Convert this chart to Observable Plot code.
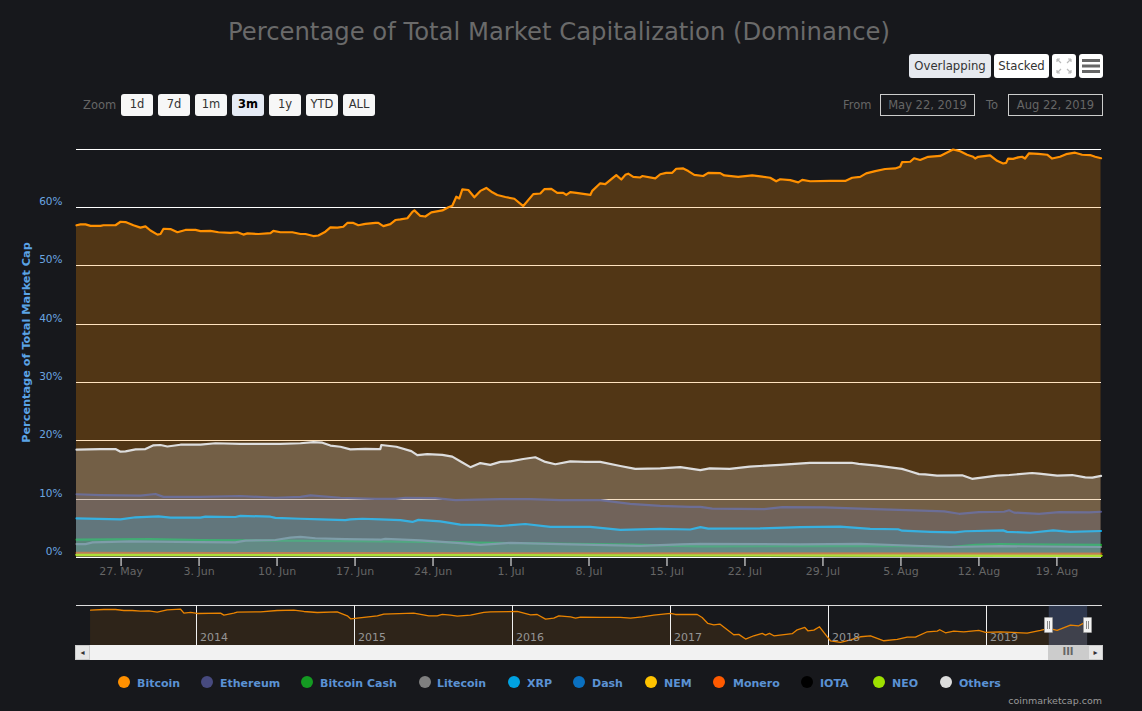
<!DOCTYPE html>
<html><head><meta charset="utf-8">
<script src="https://cdn.jsdelivr.net/npm/d3@7"></script>
<script src="https://cdn.jsdelivr.net/npm/@observablehq/plot@0.6"></script>
<style>
html,body{margin:0;padding:0;background:#17181c;width:1142px;height:711px;overflow:hidden;font-family:"DejaVu Sans",sans-serif}
.abs{position:absolute;box-sizing:border-box}
#title{left:0;width:1118px;top:16px;text-align:center;color:#6a6a6a;font-size:24.3px;line-height:32px;white-space:nowrap}
.btn{height:22px;top:94px;width:32px;background:#f7f7f7;border-radius:3px;color:#333;font-size:11.5px;line-height:21px;text-align:center}
.lab{color:#666;font-size:11.5px;top:98px;line-height:15px}
.box{top:94px;height:22px;border:1px solid #cccccc;color:#666;font-size:11.5px;line-height:20px;text-align:center}
.top{top:54px;height:24px;border-radius:3px;color:#333;font-size:11.7px;line-height:25px;text-align:center;background:#fff}
.dot{width:12px;height:12px;border-radius:50%;top:676px}
.leg{top:676px;color:#5b92d4;font-size:11px;font-weight:bold;line-height:15px;white-space:nowrap}
svg{position:absolute;left:0;overflow:visible}
</style></head><body>
<div id="root"></div>
<script>
// Main chart: days since 23 May 2019 and dominance (%)
const startDate = Date.UTC(2019,4,23);
const bitcoinDays = [0,.36,.81,1.26,2.15,2.42,3.5,3.95,4.4,5.11,5.74,6.19,6.64,7.27,7.54,7.81,8.43,9.06,9.78,10.68,11.13,12.02,12.74,13.82,14.44,14.98,15.34,16.33,17.41,17.67,18.3,19.38,20.1,20.55,21.26,21.71,22.34,22.79,23.42,23.95,24.31,24.85,25.3,25.93,26.83,27.09,27.54,28.17,28.62,29.07,29.7,30.15,30.33,30.86,31.31,31.85,32.84,33.38,33.73,34.09,34.36,34.63,35.17,35.71,36.25,36.78,37.32,37.77,38.49,39.3,40.1,41,41.63,41.99,42.62,43.15,43.69,43.96,44.32,44.86,46.12,46.29,47.01,47.46,48.09,48.45,48.9,49.26,49.52,49.97,50.6,50.78,51.95,52.4,52.93,53.47,53.83,54.46,54.91,55.45,56.25,56.7,57.78,58.14,59.39,60.65,61.37,62.26,62.8,63.16,64.06,64.78,65.14,65.85,67.65,69,69.62,70.34,70.88,71.69,72.58,73.48,73.93,74.11,74.83,75.18,75.72,76.44,77.52,78.68,79.31,79.94,80.48,80.66,80.93,82,82.63,83.17,83.44,83.62,84.07,84.52,84.87,85.14,85.5,86.31,87.12,87.57,88.28,88.82,89.63,90.26,90.98,91.43,91.96];
const bitcoinValues = [57,57.15,57.15,56.9,56.9,57,57,57.6,57.55,57,56.6,56.8,56.1,55.4,55.5,56.4,56.35,55.8,56.2,56.2,56,56.05,55.8,55.7,55.8,55.4,55.6,55.5,55.65,56.05,55.8,55.8,55.5,55.5,55.15,55.25,55.9,56.65,56.6,56.75,57.4,57.4,57,57.25,57.4,57.4,56.85,57.2,57.9,58,58.2,59.3,59.55,58.6,58.5,59.2,59.55,60.1,60.35,61.9,61.6,63.15,63.05,61.8,62.9,63.4,62.65,62.2,61.85,61.55,60.3,62.35,62.45,63.2,63.25,62.55,62.55,62.2,62.7,62.55,62.2,62.9,64.2,64.05,65.05,65.6,64.85,65.65,65.85,65.3,65.2,65.45,65.05,65.75,66,66,66.7,66.75,66.3,65.65,65.45,66,65.95,65.55,65.3,65.55,65.4,65.15,64.55,64.9,64.75,64.35,64.8,64.55,64.6,64.6,65.15,65.3,65.9,66.3,66.65,66.75,67.05,67.85,67.9,68.5,68.2,68.75,68.9,70,69.7,69.1,68.75,68.45,68.75,69,68.05,67.6,67.7,68.45,68.4,68.65,68.75,68.45,69.35,69.25,69.1,68.45,68.75,69.2,69.45,69.1,69.05,68.75,68.5];
const othersDays = [0,2.15,3.5,3.95,4.4,5.3,6.19,6.91,7.54,8.16,9.33,11.13,12.47,14.71,18.3,20.1,21.26,22.07,22.79,23.69,24.58,25.93,27.09,27.27,27.36,28.71,30.05,30.59,31.49,32.84,33.73,34.63,35.35,36.25,37.14,38.04,38.94,40.1,41.18,42.08,42.98,44.32,45.67,47.01,48.81,50.15,52.4,54.2,55.99,56.83,58.63,60.42,63.13,65.82,69.58,70.2,71.84,74.09,74.72,75.62,76.16,77.24,79.49,80.38,82.63,83.71,85.77,86.4,88.03,89.37,90.54,91.18,91.96];
const othersValues = [18.5,18.6,18.6,18.15,18.2,18.55,18.6,19.25,19.3,19.05,19.35,19.35,19.6,19.5,19.5,19.6,19.8,19.7,19.2,19,18.55,18.65,18.6,18.6,19.3,19,18.25,17.55,17.75,17.6,17.3,16.3,15.5,16.2,15.9,16.4,16.5,16.9,17.2,16.4,16,16.5,16.4,16.4,15.7,15.2,15.3,15.5,15,15.3,15.2,15.6,15.9,16.25,16.25,16.05,15.75,15.2,14.85,14.3,14.25,14.05,14.1,13.5,14.05,14.15,14.5,14.4,14.05,14.15,13.75,13.7,14,14.15];
const ethereumDays = [0,2.15,5.74,7.09,7.81,11.13,14.71,17.85,20.1,21,23.69,26.83,28.62,29.52,32.2,34,38.04,40.73,43.42,47.01,49.7,52.4,55.09,56,57.06,61.73,63.35,67.11,71.6,75.18,77.87,79.22,81,83.26,83.71,84.15,86.4,88.2,90.9,91.96];
const ethereumValues = [10.85,10.7,10.6,10.9,10.4,10.4,10.55,10.25,10.4,10.65,10.25,10.05,10.05,10.25,10.2,9.85,10,10,9.85,9.85,9.2,8.85,8.7,8.7,8.4,8.3,8.65,8.6,8.3,8.1,7.9,7.5,7.8,7.85,8.1,7.7,7.5,7.8,7.75,7.85];
const xrpDays = [0,3.95,5.3,7.36,8.43,11.13,11.57,14.26,14.71,17.41,17.85,20.1,21.9,24.13,24.58,25.66,27.27,29.07,30.15,30.69,32.66,34.45,36.25,38.04,40.28,42.53,46.12,48.81,52.4,55.09,56,56.7,61.37,64.96,68.55,71.24,73.75,74.11,76.62,78.86,79.76,83.17,83.53,85.59,87.66,89.19,91.96];
const xrpValues = [6.7,6.55,6.9,7.05,6.85,6.85,7,6.95,7.15,7,6.8,6.65,6.55,6.4,6.55,6.65,6.55,6.4,6.1,6.45,6.2,5.65,5.6,5.4,5.75,5.25,5.25,4.75,4.9,4.8,5.2,4.95,5,5.2,5.3,4.9,4.85,4.6,4.4,4.3,4.5,4.65,4.4,4.25,4.65,4.4,4.55];
const litecoinDays = [0,.81,1.44,4.85,11.13,14.26,15.16,17.85,19.2,20.1,21.44,24.13,27.27,27.72,30.86,34.45,36.25,38.94,43.42,50.6,54.2,55.99,64.96,70.34,73.93,78.41,82.9,91.96];
const litecoinValues = [2.3,2.3,2.6,2.75,2.65,2.6,2.9,3,3.4,3.55,3.3,3.15,3.05,3.2,2.95,2.45,2.15,2.5,2.3,2,2.25,2.35,2.25,2.35,2.1,1.8,1.95,1.8];
const bitcoinCashDays = [0,6.64,11.13,18.3,27.27,34.45,50,55.99,64.96,73.93,78.41,80.66,82.9,91.96];
const bitcoinCashValues = [3.05,3.15,3,2.9,2.75,2.6,2.2,1.9,1.95,1.95,1.8,2.15,2.3,2.15];
const smallDays = [0,23,46,69,92];
const dashValues = [.5,.48,.42,.36,.3];
const nemValues = [.42,.4,.36,.32,.3];
const moneroValues = [.78,.76,.72,.7,.68];
const iotaValues = [.34,.32,.28,.25,.22];
const neoValues = [.44,.42,.38,.32,.28];

// Navigator: year fraction and Bitcoin dominance (%)
const navYears = [2013.326,2013.41,2013.484,2013.537,2013.59,2013.642,2013.695,2013.748,2013.811,2013.896,2013.917,2013.959,2014.001,2014.149,2014.17,2014.233,2014.254,2014.402,2014.507,2014.613,2014.676,2014.761,2014.887,2014.951,2014.972,2015.014,2015.141,2015.182,2015.372,2015.467,2015.52,2015.552,2015.604,2015.647,2015.731,2015.815,2015.858,2016.027,2016.111,2016.153,2016.206,2016.258,2016.29,2016.364,2016.396,2016.427,2016.554,2016.68,2016.744,2016.818,2016.891,2016.997,2017.028,2017.166,2017.197,2017.233,2017.271,2017.309,2017.356,2017.397,2017.429,2017.472,2017.524,2017.577,2017.598,2017.623,2017.651,2017.767,2017.799,2017.847,2017.866,2017.904,2017.94,2017.967,2018.009,2018.073,2018.136,2018.199,2018.263,2018.347,2018.432,2018.495,2018.547,2018.622,2018.685,2018.701,2018.737,2018.79,2018.853,2018.948,2018.991,2019.085,2019.254,2019.339,2019.391,2019.444,2019.528,2019.581,2019.612,2019.637];
const navValues = [93.7,95,95,93.1,93.1,91.8,92.5,89.9,94.4,95.5,88,89.3,87.4,88,84.2,88,89.9,90.6,93.1,93.7,91.2,89.3,90.6,83,77.3,78.6,83,86.2,88,83,83,85.5,84.2,82.4,84.2,89.3,90.6,91.2,84.9,85.5,76.7,78.6,83,81.1,78.6,80.5,80,79.8,78.6,81.1,84.2,87.4,85.5,85.5,79.8,68.4,65.9,67.2,56.4,46.9,47.6,38.7,45,49.5,46.3,49.5,45,48.9,56.4,60.8,54.5,55.8,62.1,51.3,35.5,32.4,37.4,43.1,45,35.5,38.1,42.5,42.5,52.6,53.9,56.4,50.7,53.9,52.6,55.2,51.4,52.6,50.1,55.2,59,55.2,65.3,64,69.1,69];
const navYearTicks = [2014,2015,2016,2017,2018,2019];
const selection = [{x1:2019.394,x2:2019.637}];

// Text and legend
const zoomLabels = ["1d","7d","1m","3m","1y","YTD","ALL"];
const legendNames = ["Bitcoin","Ethereum","Bitcoin Cash","Litecoin","XRP","Dash","NEM","Monero","IOTA","NEO","Others"];
const legendColors = ["#ff9000","#474a7f","#149a22","#7f7f7f","#00a2e2","#0a70c0","#ffc300","#ff5a00","#000000","#9de000","#dddddd"];

const color = Object.fromEntries(legendNames.map((n,i)=>[n,legendColors[i]]));
const series = [
 ["Bitcoin",bitcoinDays,bitcoinValues],
 ["Ethereum",ethereumDays,ethereumValues],
 ["Bitcoin Cash",bitcoinCashDays,bitcoinCashValues],
 ["Litecoin",litecoinDays,litecoinValues],
 ["XRP",xrpDays,xrpValues],
 ["Dash",smallDays,dashValues],
 ["NEM",smallDays,nemValues],
 ["Monero",smallDays,moneroValues],
 ["IOTA",smallDays,iotaValues],
 ["NEO",smallDays,neoValues],
 ["Others",othersDays,othersValues]
];
const toDate = d => new Date(startDate + d*864e5);
const seriesMarks = series.flatMap(([name,days,vals])=>{
  const rows = days.map((d,i)=>({t:toDate(d),v:vals[i]}));
  return [
    Plot.areaY(rows,{x:"t",y:"v",fill:color[name],fillOpacity:.25}),
    Plot.lineY(rows,{x:"t",y:"v",stroke:color[name],strokeWidth:2.2,strokeLinejoin:"round",strokeOpacity:name==="Monero"?.55:1})
  ];
});
const root = document.getElementById("root");
const main = Plot.plot({
  width:1142,height:460,marginLeft:76,marginRight:41,marginTop:19,marginBottom:33,
  style:{background:"transparent",fontFamily:"'DejaVu Sans',sans-serif"},
  x:{type:"utc",domain:[toDate(0),toDate(92)]},
  y:{domain:[0,70]},
  marks:[
    Plot.ruleY(d3.range(0,71,10),{stroke:"#ffffff",strokeWidth:1,dy:-0.2,shapeRendering:"crispEdges"}),
    ...seriesMarks,
    Plot.axisY({ticks:d3.range(0,61,10),tickFormat:d=>d+"%",tickSize:0,tickPadding:14,dy:-6,fill:"#6ba6e0",fontSize:10.5,label:null}),
    Plot.text(["Percentage of Total Market Cap"],{frameAnchor:"left",textAnchor:"middle",rotate:-90,dx:-50,dy:-11,fill:"#5ba3e6",fontSize:11.3,fontWeight:"bold"}),
    Plot.axisX({ticks:d3.utcMonday.range(toDate(0),toDate(92)),tickFormat:d3.utcFormat("%-d. %b"),tickSize:9,tickPadding:1,stroke:"#ffffff",fill:"#666666",fontSize:11,label:null})
  ]
});
main.style.top="130px";
root.append(main);

const navRows = navYears.map((t,i)=>({t,v:navValues[i]}));
const nav = Plot.plot({
  width:1142,height:60,marginLeft:76,marginRight:40,marginTop:5.3,marginBottom:15,
  style:{background:"transparent",fontFamily:"'DejaVu Sans',sans-serif"},
  x:{type:"linear",domain:[2013.237,2019.731],axis:null},
  y:{domain:[26.5,102],axis:null},
  marks:[
    Plot.areaY(navRows,{x:"t",y1:26.5,y2:"v",fill:"#ff9000",fillOpacity:.1}),
    Plot.ruleY([102],{stroke:"#dddddd",dy:-0.4,shapeRendering:"crispEdges"}),
    Plot.ruleX(navYearTicks,{stroke:"#f0f0f0",dx:-0.6,shapeRendering:"crispEdges"}),
    Plot.rect(selection,{x1:"x1",x2:"x2",y1:26.5,y2:102,fill:"#6685c2",fillOpacity:.3}),
    Plot.lineY(navRows,{x:"t",y:"v",stroke:"#e98300",strokeWidth:1.3}),
    Plot.text(navYearTicks,{x:d=>d,y:42.5,text:d=>String(d),textAnchor:"start",dx:3,fill:"#959595",fontSize:11})
  ]
});
nav.style.top="600px";
root.append(nav);

function el(cls,css,txt){const e=document.createElement("div");e.className="abs "+(cls||"");e.style.cssText=css||"";if(txt!=null)e.textContent=txt;root.append(e);return e;}
el("","", "").id="title";
document.getElementById("title").textContent="Percentage of Total Market Capitalization (Dominance)";
el("lab","left:83px","Zoom");
zoomLabels.forEach((z,i)=>el("btn",`left:${121+37*i}px;`+(z==="3m"?"background:#e6ebf5;font-weight:bold;color:#000":""),z));
el("lab","left:843px","From");
el("box","left:880px;width:95px","May 22, 2019");
el("lab","left:986px","To");
el("box","left:1008px;width:95px","Aug 22, 2019");
el("top","left:909px;width:82px;background:#e6e9ef","Overlapping");
el("top","left:994px;width:55px","Stacked");
const fs=el("top","left:1052px;width:24px");
fs.innerHTML='<svg width="24" height="24" style="left:0;top:0"><g stroke="#bbb" stroke-width="1.2" fill="none"><path d="M5 5l4 4M5 5h3M5 5v3M19 5l-4 4M19 5h-3M19 5v3M5 19l4-4M5 19h3M5 19v-3M19 19l-4-4M19 19h-3M19 19v-3"/></g></svg>';
const mn=el("top","left:1079px;width:24px");
mn.innerHTML='<svg width="24" height="24" style="left:0;top:0"><g stroke="#666" stroke-width="3"><path d="M3 6.5h18M3 12h18M3 17.5h18"/></g></svg>';

// scrollbar
el("","left:75px;top:645px;width:1028px;height:15px;background:#f2f2f2");
el("","left:75px;top:645px;width:15px;height:15px;background:#e6e6e6;border:1px solid #ccc;color:#333;font-size:8px;line-height:13px;text-align:center","◂");
el("","left:1048px;top:645px;width:40px;height:15px;background:#cccccc;color:#666;font-size:10px;line-height:14px;text-align:center;font-weight:bold;letter-spacing:0","III");
el("","left:1088px;top:645px;width:15px;height:15px;background:#e6e6e6;border:1px solid #ccc;color:#333;font-size:8px;line-height:13px;text-align:center","▸");
[1044,1083].forEach(x=>{
  el("",`left:${x}px;top:617px;width:9px;height:16px;background:#f2f2f2;border:1px solid #999;border-radius:1px;`);
  el("",`left:${x+3}px;top:621px;width:1px;height:8px;background:#888`);
  el("",`left:${x+5}px;top:621px;width:1px;height:8px;background:#888`);
});
const legendDotX=[118,201,301,419,508,573,645,713,801,873,940];
const legendTextX=[137,220,320,437,527,592,664,733,820,892,959];
legendNames.forEach((n,i)=>{
  el("dot",`left:${legendDotX[i]}px;background:${legendColors[i]}`);
  el("leg",`left:${legendTextX[i]}px`,n);
});
el("",'right:40px;top:695px;color:#999;font-size:9.5px;line-height:12px;white-space:nowrap',"coinmarketcap.com");
</script>
</body></html>
